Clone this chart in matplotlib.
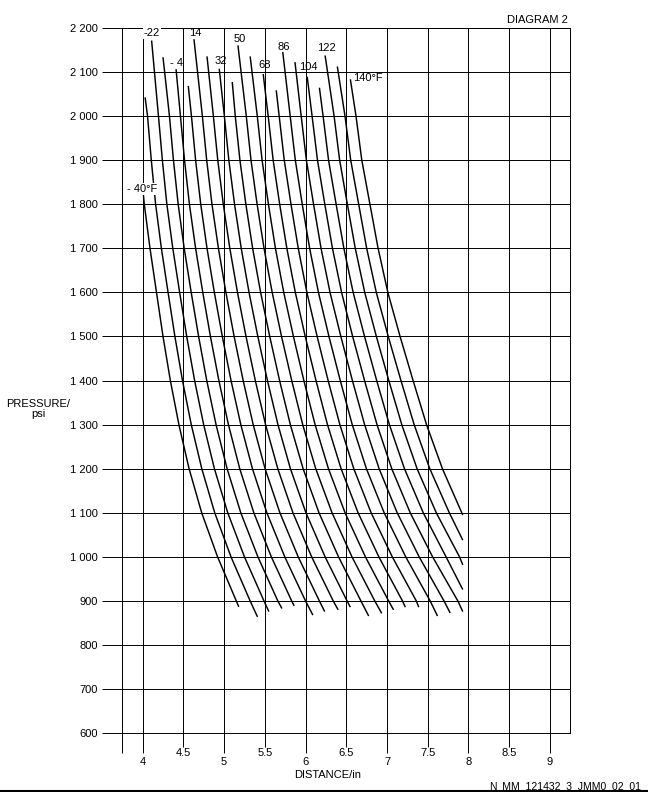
"""
DIAGRAM 2 — pressure vs. distance, one isotherm every 5 °C (-40 °C … 60 °C)

output: out.png
"""
import matplotlib
matplotlib.use("Agg")
import matplotlib.pyplot as plt
from matplotlib.lines import Line2D

plt.rcParams["font.family"] = ["Liberation Sans", "DejaVu Sans"]

# ── data ──────────────────────────────────────────────────────

TEMPS_C = [-40, -35, -30, -25, -20, -15, -10, -5, 0, 5, 10,
           15, 20, 25, 30, 35, 40, 45, 50, 55, 60]

# pressure grid levels where each curve's distance was read
LEVELS = [2000, 1900, 1800, 1700, 1600, 1500, 1400, 1300, 1200, 1100, 1000, 900]

# distance (in) of each isotherm at the LEVELS above (None = curve not there)
DIST = [
    [None,  None,  4.020, 4.090, 4.170, 4.250, 4.340, 4.445, 4.570, 4.725, 4.920, 5.150],
    [4.060, 4.106, 4.159, 4.230, 4.312, 4.396, 4.489, 4.597, 4.726, 4.885, 5.085, 5.320],
    [4.194, 4.242, 4.297, 4.370, 4.454, 4.541, 4.638, 4.749, 4.881, 5.045, 5.250, 5.490],
    [4.329, 4.378, 4.436, 4.510, 4.596, 4.687, 4.787, 4.901, 5.037, 5.205, 5.415, 5.660],
    [4.464, 4.514, 4.574, 4.650, 4.738, 4.832, 4.936, 5.053, 5.192, 5.365, 5.580, 5.830],
    [4.599, 4.650, 4.713, 4.790, 4.880, 4.978, 5.085, 5.205, 5.348, 5.525, 5.745, 6.000],
    [4.733, 4.786, 4.851, 4.930, 5.022, 5.123, 5.234, 5.357, 5.503, 5.685, 5.910, 6.170],
    [4.868, 4.922, 4.990, 5.070, 5.164, 5.269, 5.383, 5.509, 5.659, 5.845, 6.075, 6.340],
    [5.003, 5.058, 5.128, 5.210, 5.306, 5.414, 5.532, 5.661, 5.814, 6.005, 6.240, 6.510],
    [5.137, 5.194, 5.267, 5.350, 5.448, 5.560, 5.681, 5.813, 5.970, 6.165, 6.405, 6.680],
    [5.272, 5.330, 5.405, 5.490, 5.590, 5.705, 5.830, 5.965, 6.125, 6.325, 6.570, 6.850],
    [5.407, 5.466, 5.544, 5.630, 5.732, 5.851, 5.979, 6.117, 6.281, 6.485, 6.735, 7.020],
    [5.541, 5.602, 5.682, 5.770, 5.874, 5.996, 6.128, 6.269, 6.436, 6.645, 6.900, 7.190],
    [5.676, 5.738, 5.821, 5.910, 6.016, 6.142, 6.277, 6.421, 6.592, 6.805, 7.065, 7.360],
    [5.811, 5.874, 5.959, 6.050, 6.158, 6.287, 6.426, 6.573, 6.747, 6.965, 7.230, 7.530],
    [5.946, 6.010, 6.098, 6.190, 6.300, 6.433, 6.575, 6.725, 6.903, 7.125, 7.395, 7.700],
    [6.080, 6.146, 6.236, 6.330, 6.442, 6.578, 6.724, 6.877, 7.058, 7.285, 7.560, 7.870],
    [6.215, 6.282, 6.375, 6.470, 6.584, 6.724, 6.873, 7.029, 7.214, 7.445, 7.725, None],
    [6.350, 6.418, 6.513, 6.610, 6.726, 6.869, 7.022, 7.181, 7.369, 7.605, 7.890, None],
    [6.484, 6.554, 6.652, 6.750, 6.868, 7.015, 7.171, 7.333, 7.525, 7.765, None,  None],
    [6.619, 6.690, 6.790, 6.890, 7.010, 7.160, 7.320, 7.485, 7.680, None,  None,  None],
]

# top end of each curve
START_X = [4.01, 4.03, 4.11, 4.25, 4.41, 4.56, 4.63, 4.79, 4.94, 5.10, 5.17,
           5.32, 5.48, 5.64, 5.72, 5.87, 6.02, 6.17, 6.24, 6.39, 6.55]
START_P = [1820, 2042, 2171, 2133, 2106, 2068, 2174, 2135, 2107, 2077, 2160,
           2135, 2095, 2058, 2145, 2122, 2089, 2064, 2137, 2112, 2083]

# bottom (or right-hand) end of each curve
END_X = [5.18, 5.41, 5.55, 5.71, 5.86, 6.09, 6.235, 6.40, 6.55, 6.775, 6.935,
         7.08, 7.225, 7.39, 7.62, 7.775, 7.93, 7.93, 7.93, 7.93, 7.93]
END_P = [887, 864, 876, 883, 889, 868, 876, 880, 886, 866, 872,
         880, 886, 886, 866, 873, 876, 926, 982, 1038, 1095]

# °F labels
LABELS  = ["- 40°F", "-22", "- 4", "14", "32", "50", "68", "86", "104", "122", "140°F"]
LABEL_X = [3.998, 4.114, 4.415, 4.642, 4.961, 5.194, 5.495, 5.734, 6.029, 6.262, 6.766]
LABEL_P = [1834, 2187, 2120, 2188, 2125, 2174, 2116, 2157, 2111, 2153, 2087]
# labels drawn on a white patch (they blank out the lines behind them)
MASKED  = ["- 40°F", "-22"]

Y_TICKS  = list(range(600, 2201, 100))
X_MAJOR  = [3.75, 4, 5, 6, 7, 8, 9]
X_MINOR  = [4.5, 5.5, 6.5, 7.5, 8.5]


def fmt_psi(v):
    return f"{v:,}".replace(",", " ")


def main():
    fig = plt.figure(figsize=(6.48, 7.92), dpi=100)
    ax = fig.add_axes([0.1887, 0.0741, 0.6914, 0.8909])
    ax.set_xlim(3.75, 9.25)
    ax.set_ylim(600, 2200)

    # ── grid / ticks ──────────────────────────────
    ax.set_yticks(Y_TICKS)
    ax.set_yticklabels([fmt_psi(v) for v in Y_TICKS])
    ax.set_xticks(X_MAJOR)
    ax.set_xticklabels(["" if v == 3.75 else f"{v:g}" for v in X_MAJOR])
    ax.set_xticks(X_MINOR, minor=True)
    ax.set_xticklabels([f"{v:g}" for v in X_MINOR], minor=True)

    ax.tick_params(axis="y", length=14.4, width=0.7, pad=3, labelsize=8, color="black")
    ax.tick_params(axis="x", which="major", length=14.4, width=0.7, pad=3, labelsize=8)
    ax.tick_params(axis="x", which="minor", length=10, width=0.7, pad=0.5, labelsize=8)

    ax.grid(True, axis="y", color="black", linewidth=0.7)
    ax.grid(True, axis="x", which="both", color="black", linewidth=0.7)
    for sp in ax.spines.values():
        sp.set_linewidth(0.7)
        sp.set_color("black")

    # ── isotherms ─────────────────────────────────
    for k in range(len(TEMPS_C)):
        xs = [START_X[k]]
        ps = [START_P[k]]
        for lvl, d in zip(LEVELS, DIST[k]):
            if d is not None and END_P[k] + 10 < lvl < START_P[k]:
                xs.append(d)
                ps.append(lvl)
        xs.append(END_X[k])
        ps.append(END_P[k])
        ax.plot(xs, ps, color="black", linewidth=1.05, solid_capstyle="butt", zorder=3)

    for s, x, p in zip(LABELS, LABEL_X, LABEL_P):
        box = dict(facecolor="white", edgecolor="none", pad=0.6) if s in MASKED else None
        ax.text(x, p, s, ha="center", va="center", fontsize=8, zorder=5, bbox=box)

    # ── texts ─────────────────────────────────────
    fig.text(0.0586, 0.4836, "PRESSURE/\npsi", ha="center", va="center",
             fontsize=8, linespacing=1.0)
    fig.text(0.506, 0.0215, "DISTANCE/in", ha="center", va="center", fontsize=8)
    fig.text(0.8765, 0.9747, "DIAGRAM 2", ha="right", va="center", fontsize=8)
    fig.text(0.989, 0.0076, "N_MM_121432_3_JMM0_02_01", ha="right", va="center", fontsize=7.5)
    fig.add_artist(Line2D([0, 1], [0.0015, 0.0015], color="black", linewidth=1.5))

    fig.savefig("out.png", dpi=100)
    plt.close(fig)


if __name__ == "__main__":
    main()
